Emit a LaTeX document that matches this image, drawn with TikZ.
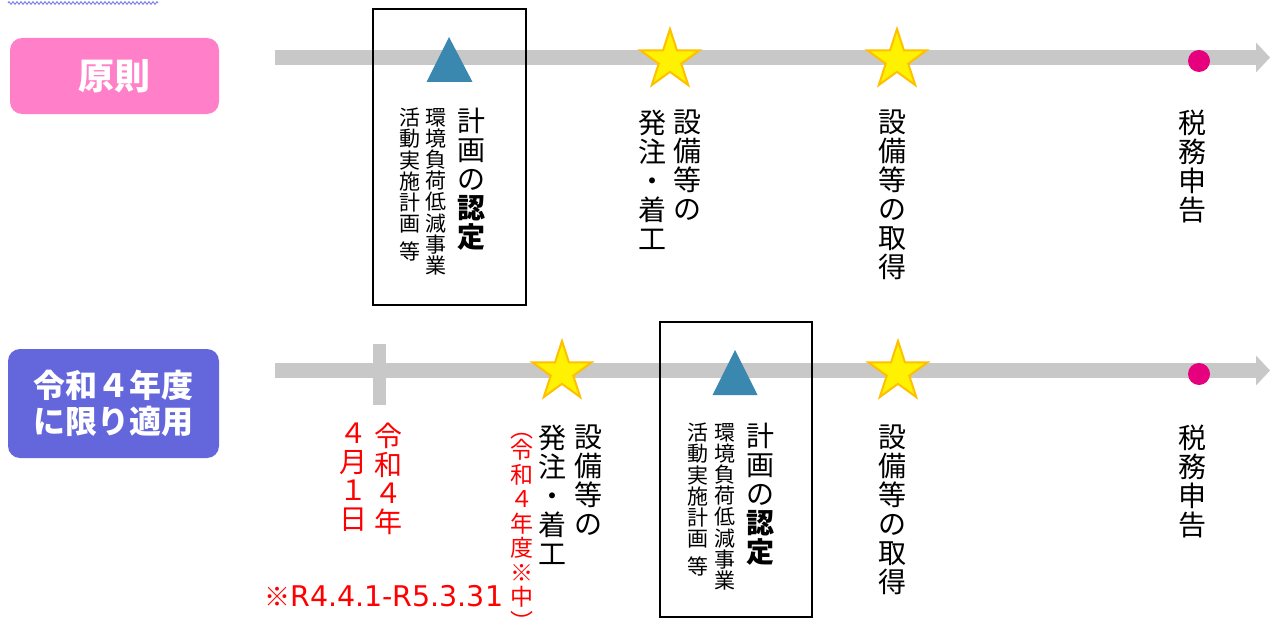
\documentclass[tikz,border=0pt]{standalone}
\usepackage{fontspec}
\newfontfamily\cjk{Noto Sans CJK JP}
\newfontfamily\dv{DejaVu Sans}
\usetikzlibrary{arrows.meta,shapes.geometric,decorations.pathmorphing}
\definecolor{pinkbox}{RGB}{255,128,200}
\definecolor{purplebox}{RGB}{100,102,220}
\definecolor{bar}{RGB}{200,200,200}
\definecolor{tri}{RGB}{58,135,176}
\definecolor{dot}{RGB}{230,0,126}
\definecolor{staredge}{RGB}{255,192,0}
\definecolor{wavy}{RGB}{130,130,240}
\tikzset{
  vbig/.style={anchor=north, align=center, inner sep=0pt, font=\cjk\fontsize{28}{29}\selectfont},
  vsmall/.style={anchor=north, align=center, inner sep=0pt, font=\cjk\fontsize{21}{21.2}\selectfont},
  vred/.style={anchor=north, align=center, inner sep=0pt, text=red, font=\cjk\fontsize{28}{28.5}\selectfont},
  vredsmall/.style={anchor=north, align=center, inner sep=0pt, text=red, font=\cjk\fontsize{23}{24.5}\selectfont},
  timeline/.style={draw=bar, line width=15pt, -{Triangle[length=14pt,width=30pt,line width=0pt]}},
  starmark/.style={star, star points=5, star point ratio=2.618, minimum size=62pt, inner sep=0pt, fill=yellow, draw=staredge, line width=2pt},
  trimark/.style={fill=tri},
  dotmark/.style={circle, fill=dot, minimum size=22pt, inner sep=0pt},
  planbox/.style={draw=black, line width=2pt},
  label/.style={rounded corners=12pt, text=white, align=center, inner sep=0pt}
}
\begin{document}
\begin{tikzpicture}[x=1pt,y=-1pt]
\useasboundingbox (0,0) rectangle (1270,618);
\clip (0,0) rectangle (1270,618);
\fill[white] (0,0) rectangle (1270,618);
% spell-check squiggle
\draw[wavy, line width=1pt, decorate, decoration={zigzag, segment length=4pt, amplitude=1.3pt}] (8,3) -- (158,3);
% left labels
\node[label, fill=pinkbox, minimum width=209pt, minimum height=76pt, font=\cjk\bfseries\fontsize{36}{38}\selectfont] (gensoku) at (114.5,76) {原則};
\node[label, fill=purplebox, minimum width=211pt, minimum height=109pt, font=\cjk\bfseries\fontsize{32}{36}\selectfont] (reiwa) at (113.5,403.5) {令和４年度\\に限り適用};
% timelines
\coordinate (t0) at (275,57.5);
\coordinate (t1) at (1270,57.5);
\coordinate (b0) at (275,370.5);
\coordinate (b1) at (1270,370.5);
\draw[timeline] (t0) -- (t1);
\draw[timeline] (b0) -- (b1);
% tick
\fill[bar] (373,344) rectangle (386,405);
% boxes
\draw[planbox] (373,9) rectangle (526,305);
\draw[planbox] (660,322) rectangle (812,617);
% triangles
\fill[trimark] (449,37) -- (472.5,82) -- (426.5,82) -- cycle;
\fill[trimark] (735,350) -- (757.5,395) -- (712.5,395) -- cycle;
% stars
\node[starmark] (s1) at (670,60) {};
\node[starmark] (s2) at (897,60) {};
\node[starmark] (s3) at (562,372) {};
\node[starmark] (s4) at (898,372) {};
% dots
\node[dotmark] (d1) at (1199,61) {};
\node[dotmark] (d2) at (1199,374) {};
% top texts
\node[vbig] (n1) at (471,108) {計\\画\\の\\{\bfseries 認}\\{\bfseries 定}};
\node[vsmall] (n2) at (436,108) {環\\境\\負\\荷\\低\\減\\事\\業};
\node[vsmall] (n3) at (410,108) {活\\動\\実\\施\\計\\画\\[7pt]等};
\node[vbig] (n4) at (687,110) {設\\備\\等\\の};
\node[vbig] (n5) at (652,110) {発\\注\\・\\着\\工};
\node[vbig] (n6) at (892,110) {設\\備\\等\\の\\取\\得};
\node[vbig] (n7) at (1192,110) {税\\務\\申\\告};
% bottom texts
\node[vred] (r1) at (388,423) {令\\和\\４\\年};
\node[vred] (r2) at (353,423) {４\\月\\１\\日};
\node[red, anchor=west, inner sep=0pt, font=\dv\fontsize{28.5}{30}\selectfont] (r3) at (264,596) {{\cjk\fontsize{26}{30}\selectfont ※}R4.4.1-R5.3.31};
\node[vredsmall] (r4) at (522,433) {︵\\[-3pt]令\\和\\４\\年\\度\\※\\中\\︶};
\node[vbig] (m1) at (588,425) {設\\備\\等\\の};
\node[vbig] (m2) at (552,425) {発\\注\\・\\着\\工};
\node[vbig] (m3) at (760,423) {計\\画\\の\\{\bfseries 認}\\{\bfseries 定}};
\node[vsmall] (m4) at (725,423) {環\\境\\負\\荷\\低\\減\\事\\業};
\node[vsmall] (m5) at (698,423) {活\\動\\実\\施\\計\\画\\[7pt]等};
\node[vbig] (m6) at (892,425) {設\\備\\等\\の\\取\\得};
\node[vbig] (m7) at (1192,425) {税\\務\\申\\告};
\end{tikzpicture}
\end{document}
